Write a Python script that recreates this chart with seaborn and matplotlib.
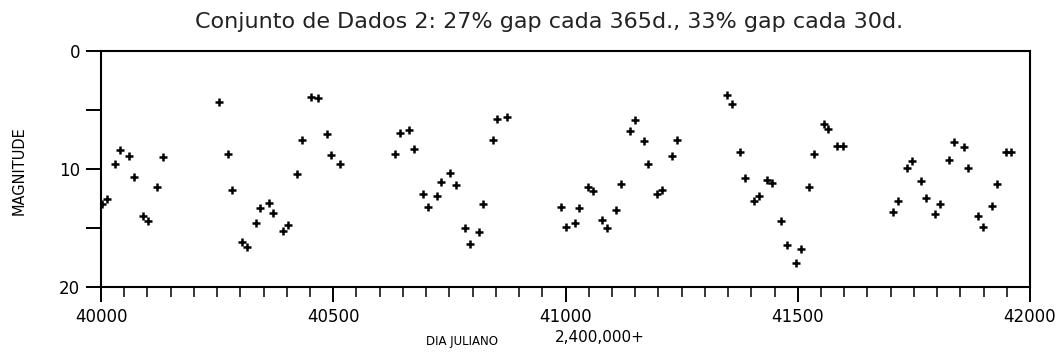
import matplotlib
matplotlib.use("Agg")
import matplotlib.pyplot as plt
import seaborn as sns
import pandas as pd
from matplotlib.ticker import MultipleLocator

# Julian day (minus 2,400,000) and magnitude
dias = [40002, 40012, 40030, 40041, 40061, 40071, 40091, 40102, 40121, 40133,
        40253, 40273, 40283, 40303, 40314, 40333, 40342, 40361, 40371, 40392,
        40403, 40423, 40433, 40452, 40467, 40486, 40496, 40515,
        40634, 40644, 40664, 40673, 40693, 40703, 40723, 40733, 40752, 40764,
        40784, 40794, 40814, 40823, 40843, 40853, 40873,
        40990, 41001, 41020, 41030, 41049, 41060, 41079, 41090, 41109, 41119,
        41139, 41149, 41168, 41178, 41198, 41208, 41229, 41239,
        41347, 41358, 41376, 41386, 41405, 41416, 41433, 41445, 41465, 41476,
        41496, 41506, 41525, 41536, 41556, 41566, 41585, 41597,
        41706, 41716, 41735, 41745, 41766, 41777, 41796, 41806, 41826, 41837,
        41857, 41867, 41887, 41898, 41918, 41928, 41948, 41959]
magnitudes = [12.95, 12.5, 9.6, 8.4, 8.9, 10.7, 14.0, 14.4, 11.5, 9.0,
              4.35, 8.7, 11.8, 16.2, 16.6, 14.55, 13.3, 12.85, 13.75, 15.25,
              14.75, 10.4, 7.55, 3.9, 3.95, 7.06, 8.8, 9.6,
              8.73, 6.98, 6.7, 8.28, 12.1, 13.2, 12.3, 11.1, 10.33, 11.33,
              15.0, 16.36, 15.3, 13.0, 7.55, 5.74, 5.56,
              13.25, 14.9, 14.6, 13.3, 11.55, 11.9, 14.3, 15.0, 13.5, 11.27,
              6.8, 5.82, 7.65, 9.58, 12.09, 11.8, 8.93, 7.57,
              3.73, 4.46, 8.6, 10.8, 12.7, 12.26, 10.96, 11.2, 14.43, 16.47,
              18.0, 16.8, 11.5, 8.75, 6.21, 6.58, 8.05, 8.05,
              13.65, 12.7, 9.94, 9.35, 11.0, 12.46, 13.8, 12.94, 9.26, 7.74,
              8.1, 9.9, 13.98, 14.9, 13.16, 11.3, 8.6, 8.6]

titulo = "Conjunto de Dados 2: 27% gap cada 365d., 33% gap cada 30d."
x_ticks = [40000, 40500, 41000, 41500, 42000]
y_ticks = [0, 10, 20]

df = pd.DataFrame({"dia": dias, "mag": magnitudes})

sns.set_theme(style="white")
plt.rcParams['font.family'] = ['DejaVu Sans']

fig = plt.figure(figsize=(10.62, 3.54), dpi=100)
ax = fig.add_axes([101/1062, 1 - 287/354, 929/1062, 236/354])

sns.scatterplot(data=df, x="dia", y="mag", ax=ax, marker="+", color="black",
                s=34, linewidth=1.8, legend=False, zorder=3)

ax.set_xlim(40000, 42000)
ax.set_ylim(20, 0)
ax.set_xticks(x_ticks)
ax.set_xticklabels([str(v) for v in x_ticks])
ax.xaxis.set_minor_locator(MultipleLocator(50))
ax.set_yticks(y_ticks)
ax.set_yticklabels([str(v) for v in y_ticks])
ax.yaxis.set_minor_locator(MultipleLocator(5))

ax.tick_params(axis="x", which="major", direction="out", length=11, width=1.4,
               labelsize=12, pad=4, color="black", labelcolor="black", bottom=True)
ax.tick_params(axis="x", which="minor", direction="out", length=7, width=1.1,
               color="black", bottom=True)
ax.tick_params(axis="y", which="both", direction="out", length=11, width=1.4,
               labelsize=12, pad=4, color="black", labelcolor="black", left=True)

for sp in ax.spines.values():
    sp.set_visible(True)
    sp.set_color("black")
    sp.set_linewidth(1.5)

ax.set_xlabel("")
ax.set_ylabel("")
ax.grid(False)

fig.text(549/1062, 1 - 22/354, titulo, ha="center", va="center", fontsize=16, color="#222222")
fig.text(19/1062, 1 - 171/354, "MAGNITUDE", rotation=90, ha="center", va="center",
         fontsize=10.5, color="black")
fig.text(462/1062, 1 - 341/354, "DIA JULIANO", ha="center", va="center", fontsize=8.5, color="black")
fig.text(600/1062, 1 - 338/354, "2,400,000+", ha="center", va="center", fontsize=11, color="black")

fig.savefig("out.png", dpi=100, facecolor="white")
